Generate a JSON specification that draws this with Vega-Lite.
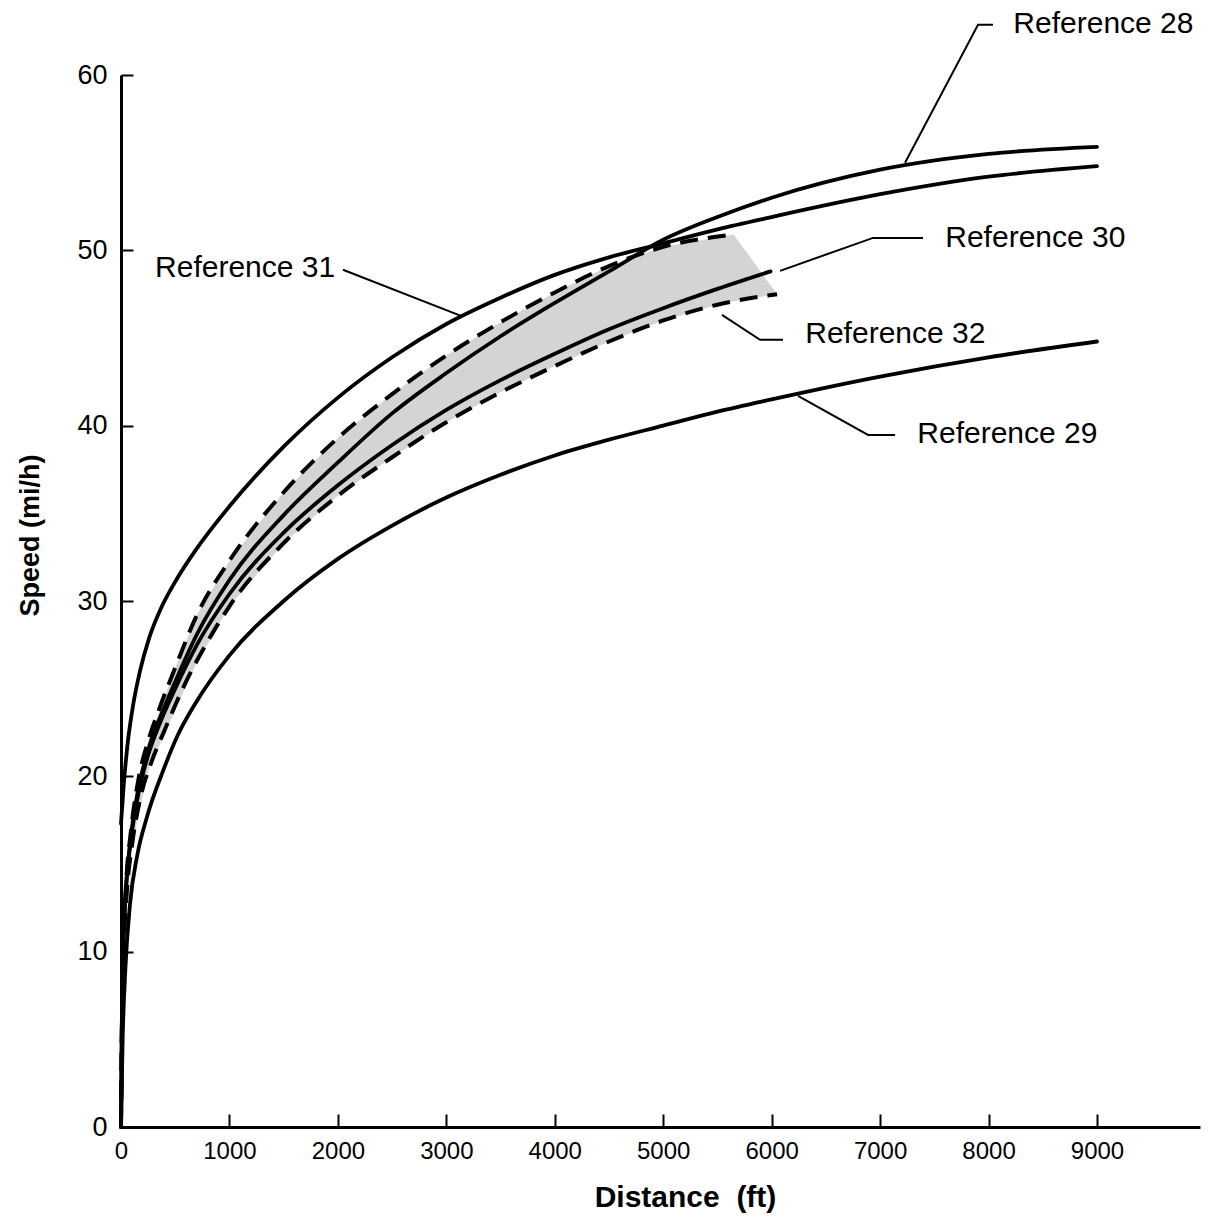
{
  "$schema": "https://vega.github.io/schema/vega-lite/v6.json",
  "width": 1079,
  "height": 1052,
  "autosize": {"type": "none"},
  "padding": {"left": 121, "top": 75, "right": 10, "bottom": 93},
  "background": "white",
  "config": {"view": {"stroke": null}, "font": "Liberation Sans"},
  "datasets": {
    "band": [
      {"ft": 0, "lo": 0, "hi": 0},
      {"ft": 100, "lo": 16.0, "hi": 17.4},
      {"ft": 250, "lo": 20.3, "hi": 22.0},
      {"ft": 500, "lo": 23.8, "hi": 26.2},
      {"ft": 700, "lo": 26.5, "hi": 29.2},
      {"ft": 1000, "lo": 29.7, "hi": 32.3},
      {"ft": 1500, "lo": 33.3, "hi": 36.2},
      {"ft": 2000, "lo": 36.0, "hi": 39.3},
      {"ft": 2500, "lo": 38.2, "hi": 41.8},
      {"ft": 3000, "lo": 40.2, "hi": 44.0},
      {"ft": 3500, "lo": 41.9, "hi": 45.9},
      {"ft": 4000, "lo": 43.4, "hi": 47.6},
      {"ft": 4500, "lo": 44.8, "hi": 49.1},
      {"ft": 5000, "lo": 46.0, "hi": 50.2},
      {"ft": 5500, "lo": 46.9, "hi": 50.75},
      {"ft": 5650, "lo": 47.1, "hi": 50.9},
      {"ft": 6050, "lo": 47.5, "hi": 47.5}
    ],
    "solid": [
      {"s": "Reference 31", "ft": 0, "mph": 17.3},
      {"s": "Reference 31", "ft": 25, "mph": 19.5},
      {"s": "Reference 31", "ft": 60, "mph": 21.8},
      {"s": "Reference 31", "ft": 110, "mph": 24.0},
      {"s": "Reference 31", "ft": 175, "mph": 26.0},
      {"s": "Reference 31", "ft": 260, "mph": 27.9},
      {"s": "Reference 31", "ft": 370, "mph": 29.6},
      {"s": "Reference 31", "ft": 500, "mph": 31.1},
      {"s": "Reference 31", "ft": 700, "mph": 33.0},
      {"s": "Reference 31", "ft": 1000, "mph": 35.4},
      {"s": "Reference 31", "ft": 1500, "mph": 38.8},
      {"s": "Reference 31", "ft": 2000, "mph": 41.6},
      {"s": "Reference 31", "ft": 2500, "mph": 43.9},
      {"s": "Reference 31", "ft": 3000, "mph": 45.8},
      {"s": "Reference 31", "ft": 3500, "mph": 47.3},
      {"s": "Reference 31", "ft": 4000, "mph": 48.6},
      {"s": "Reference 31", "ft": 4500, "mph": 49.6},
      {"s": "Reference 31", "ft": 5000, "mph": 50.4},
      {"s": "Reference 31", "ft": 5500, "mph": 51.2},
      {"s": "Reference 31", "ft": 6000, "mph": 51.9},
      {"s": "Reference 31", "ft": 7000, "mph": 53.2},
      {"s": "Reference 31", "ft": 8000, "mph": 54.2},
      {"s": "Reference 31", "ft": 9000, "mph": 54.8},
      {"s": "Reference 28", "ft": 0, "mph": 0},
      {"s": "Reference 28", "ft": 8, "mph": 6},
      {"s": "Reference 28", "ft": 20, "mph": 10},
      {"s": "Reference 28", "ft": 45, "mph": 13.5},
      {"s": "Reference 28", "ft": 90, "mph": 16.5},
      {"s": "Reference 28", "ft": 160, "mph": 19.3},
      {"s": "Reference 28", "ft": 250, "mph": 21.5},
      {"s": "Reference 28", "ft": 350, "mph": 23.2},
      {"s": "Reference 28", "ft": 500, "mph": 25.4},
      {"s": "Reference 28", "ft": 700, "mph": 28.1},
      {"s": "Reference 28", "ft": 1000, "mph": 31.2},
      {"s": "Reference 28", "ft": 1500, "mph": 34.9},
      {"s": "Reference 28", "ft": 2000, "mph": 37.9},
      {"s": "Reference 28", "ft": 2500, "mph": 40.7},
      {"s": "Reference 28", "ft": 3000, "mph": 43.0},
      {"s": "Reference 28", "ft": 3500, "mph": 45.1},
      {"s": "Reference 28", "ft": 4000, "mph": 47.0},
      {"s": "Reference 28", "ft": 4500, "mph": 48.8},
      {"s": "Reference 28", "ft": 5000, "mph": 50.6},
      {"s": "Reference 28", "ft": 5500, "mph": 51.9},
      {"s": "Reference 28", "ft": 6000, "mph": 53.0},
      {"s": "Reference 28", "ft": 7000, "mph": 54.6},
      {"s": "Reference 28", "ft": 8000, "mph": 55.5},
      {"s": "Reference 28", "ft": 9000, "mph": 55.9},
      {"s": "Reference 30", "ft": 0, "mph": 0},
      {"s": "Reference 30", "ft": 8, "mph": 6},
      {"s": "Reference 30", "ft": 20, "mph": 10},
      {"s": "Reference 30", "ft": 45, "mph": 13.5},
      {"s": "Reference 30", "ft": 90, "mph": 16.3},
      {"s": "Reference 30", "ft": 160, "mph": 19.0},
      {"s": "Reference 30", "ft": 250, "mph": 21.2},
      {"s": "Reference 30", "ft": 350, "mph": 22.9},
      {"s": "Reference 30", "ft": 500, "mph": 25.0},
      {"s": "Reference 30", "ft": 700, "mph": 27.5},
      {"s": "Reference 30", "ft": 1000, "mph": 30.4},
      {"s": "Reference 30", "ft": 1500, "mph": 33.9},
      {"s": "Reference 30", "ft": 2000, "mph": 36.6},
      {"s": "Reference 30", "ft": 2500, "mph": 38.9},
      {"s": "Reference 30", "ft": 3000, "mph": 40.9},
      {"s": "Reference 30", "ft": 3500, "mph": 42.6},
      {"s": "Reference 30", "ft": 4000, "mph": 44.1},
      {"s": "Reference 30", "ft": 4500, "mph": 45.5},
      {"s": "Reference 30", "ft": 5000, "mph": 46.7},
      {"s": "Reference 30", "ft": 5500, "mph": 47.8},
      {"s": "Reference 30", "ft": 5990, "mph": 48.8},
      {"s": "Reference 29", "ft": 0, "mph": 0},
      {"s": "Reference 29", "ft": 15, "mph": 5},
      {"s": "Reference 29", "ft": 40, "mph": 9},
      {"s": "Reference 29", "ft": 83, "mph": 12.7},
      {"s": "Reference 29", "ft": 150, "mph": 15.5},
      {"s": "Reference 29", "ft": 240, "mph": 17.7},
      {"s": "Reference 29", "ft": 387, "mph": 20.3},
      {"s": "Reference 29", "ft": 520, "mph": 22.3},
      {"s": "Reference 29", "ft": 700, "mph": 24.3},
      {"s": "Reference 29", "ft": 1000, "mph": 26.9},
      {"s": "Reference 29", "ft": 1500, "mph": 30.0},
      {"s": "Reference 29", "ft": 2000, "mph": 32.4},
      {"s": "Reference 29", "ft": 2500, "mph": 34.3},
      {"s": "Reference 29", "ft": 3000, "mph": 35.9},
      {"s": "Reference 29", "ft": 3500, "mph": 37.2},
      {"s": "Reference 29", "ft": 4000, "mph": 38.3},
      {"s": "Reference 29", "ft": 4500, "mph": 39.2},
      {"s": "Reference 29", "ft": 5000, "mph": 40.0},
      {"s": "Reference 29", "ft": 5500, "mph": 40.8},
      {"s": "Reference 29", "ft": 6000, "mph": 41.5},
      {"s": "Reference 29", "ft": 7000, "mph": 42.8},
      {"s": "Reference 29", "ft": 8000, "mph": 43.9},
      {"s": "Reference 29", "ft": 9000, "mph": 44.8}
    ],
    "dashed": [
      {"s": "upper", "ft": 0, "mph": 0},
      {"s": "upper", "ft": 8, "mph": 6},
      {"s": "upper", "ft": 20, "mph": 10},
      {"s": "upper", "ft": 45, "mph": 13.7},
      {"s": "upper", "ft": 90, "mph": 16.8},
      {"s": "upper", "ft": 160, "mph": 19.8},
      {"s": "upper", "ft": 250, "mph": 22.0},
      {"s": "upper", "ft": 350, "mph": 23.8},
      {"s": "upper", "ft": 500, "mph": 26.2},
      {"s": "upper", "ft": 700, "mph": 29.2},
      {"s": "upper", "ft": 1000, "mph": 32.3},
      {"s": "upper", "ft": 1500, "mph": 36.2},
      {"s": "upper", "ft": 2000, "mph": 39.3},
      {"s": "upper", "ft": 2500, "mph": 41.8},
      {"s": "upper", "ft": 3000, "mph": 44.0},
      {"s": "upper", "ft": 3500, "mph": 45.9},
      {"s": "upper", "ft": 4000, "mph": 47.6},
      {"s": "upper", "ft": 4500, "mph": 49.1},
      {"s": "upper", "ft": 5000, "mph": 50.2},
      {"s": "upper", "ft": 5650, "mph": 50.9},
      {"s": "lower", "ft": 0, "mph": 0},
      {"s": "lower", "ft": 10, "mph": 6},
      {"s": "lower", "ft": 25, "mph": 10},
      {"s": "lower", "ft": 55, "mph": 13.5},
      {"s": "lower", "ft": 100, "mph": 16.0},
      {"s": "lower", "ft": 180, "mph": 18.8},
      {"s": "lower", "ft": 280, "mph": 20.8},
      {"s": "lower", "ft": 400, "mph": 22.6},
      {"s": "lower", "ft": 600, "mph": 25.4},
      {"s": "lower", "ft": 800, "mph": 27.7},
      {"s": "lower", "ft": 1000, "mph": 29.7},
      {"s": "lower", "ft": 1500, "mph": 33.3},
      {"s": "lower", "ft": 2000, "mph": 36.0},
      {"s": "lower", "ft": 2500, "mph": 38.2},
      {"s": "lower", "ft": 3000, "mph": 40.2},
      {"s": "lower", "ft": 3500, "mph": 41.9},
      {"s": "lower", "ft": 4000, "mph": 43.4},
      {"s": "lower", "ft": 4500, "mph": 44.8},
      {"s": "lower", "ft": 5000, "mph": 46.0},
      {"s": "lower", "ft": 5500, "mph": 46.9},
      {"s": "lower", "ft": 6050, "mph": 47.5}
    ],
    "leaders": [
      {"id": "r28", "ft": 7230, "mph": 55.0},
      {"id": "r28", "ft": 7903, "mph": 62.86},
      {"id": "r28", "ft": 8041, "mph": 62.86},
      {"id": "r30", "ft": 6077, "mph": 48.83},
      {"id": "r30", "ft": 6935, "mph": 50.71},
      {"id": "r30", "ft": 7396, "mph": 50.71},
      {"id": "r32", "ft": 5542, "mph": 46.32},
      {"id": "r32", "ft": 5893, "mph": 44.9},
      {"id": "r32", "ft": 6105, "mph": 44.9},
      {"id": "r29", "ft": 6243, "mph": 41.7},
      {"id": "r29", "ft": 6889, "mph": 39.47},
      {"id": "r29", "ft": 7138, "mph": 39.47},
      {"id": "r31", "ft": 2047, "mph": 48.89},
      {"id": "r31", "ft": 3135, "mph": 46.26}
    ],
    "labels": [
      {"label": "Reference 28", "ft": 8229, "mph": 62.9},
      {"label": "Reference 30", "ft": 7601, "mph": 50.7},
      {"label": "Reference 32", "ft": 6310, "mph": 45.2},
      {"label": "Reference 29", "ft": 7343, "mph": 39.5},
      {"label": "Reference 31", "ft": 314, "mph": 49.0}
    ]
  },
  "layer": [
    {
      "data": {"name": "band"},
      "mark": {"type": "area", "color": "#d4d4d4", "interpolate": "linear"},
      "encoding": {
        "x": {
          "field": "ft", "type": "quantitative",
          "scale": {"domain": [0, 9950], "nice": false, "zero": false},
          "title": "Distance\u00a0\u00a0(ft)",
          "axis": {
            "values": [0, 1000, 2000, 3000, 4000, 5000, 6000, 7000, 8000, 9000],
            "format": "d", "grid": false,
            "domainColor": "black", "domainWidth": 3,
            "tickColor": "black", "tickWidth": 2, "tickSize": -13,
            "labelPadding": 25, "labelFont": "Liberation Sans", "labelFontSize": 24,
            "labelColor": "black", "labelFlush": false, "labelOverlap": false,
            "titleFont": "Liberation Sans", "titleFontWeight": "bold", "titleFontSize": 30,
            "titleColor": "black", "titleX": 564, "titleY": 70, "titleBaseline": "middle", "titleAlign": "center"
          }
        },
        "y": {
          "field": "lo", "type": "quantitative",
          "scale": {"domain": [0, 60], "nice": false, "zero": false},
          "title": "Speed (mi/h)",
          "axis": {
            "values": [0, 10, 20, 30, 40, 50, 60],
            "grid": false,
            "domainColor": "black", "domainWidth": 3,
            "tickColor": "black", "tickWidth": 2, "tickSize": -12,
            "labelPadding": 26, "labelFont": "Liberation Sans", "labelFontSize": 27,
            "labelColor": "black", "labelFlush": false, "labelOverlap": false,
            "titleFont": "Liberation Sans", "titleFontWeight": "bold", "titleFontSize": 27,
            "titleColor": "black", "titleX": -91, "titleY": 460, "titleBaseline": "middle", "titleAlign": "center", "titleAngle": -90
          }
        },
        "y2": {"field": "hi"}
      }
    },
    {
      "data": {"name": "dashed"},
      "mark": {"type": "line", "color": "black", "strokeWidth": 4, "strokeDash": [18, 10], "interpolate": "monotone"},
      "encoding": {
        "x": {"field": "ft", "type": "quantitative", "title": "Distance\u00a0\u00a0(ft)"},
        "y": {"field": "mph", "type": "quantitative", "title": "Speed (mi/h)"},
        "detail": {"field": "s"}
      }
    },
    {
      "data": {"name": "solid"},
      "mark": {"type": "line", "color": "black", "strokeWidth": 3.8, "strokeCap": "round", "interpolate": "monotone"},
      "encoding": {
        "x": {"field": "ft", "type": "quantitative", "title": "Distance\u00a0\u00a0(ft)"},
        "y": {"field": "mph", "type": "quantitative", "title": "Speed (mi/h)"},
        "detail": {"field": "s"}
      }
    },
    {
      "data": {"name": "leaders"},
      "mark": {"type": "line", "color": "black", "strokeWidth": 2},
      "encoding": {
        "x": {"field": "ft", "type": "quantitative", "title": "Distance\u00a0\u00a0(ft)"},
        "y": {"field": "mph", "type": "quantitative", "title": "Speed (mi/h)"},
        "detail": {"field": "id"}
      }
    },
    {
      "data": {"name": "labels"},
      "mark": {"type": "text", "align": "left", "baseline": "middle", "fontSize": 30, "font": "Liberation Sans", "color": "black"},
      "encoding": {
        "x": {"field": "ft", "type": "quantitative", "title": "Distance\u00a0\u00a0(ft)"},
        "y": {"field": "mph", "type": "quantitative", "title": "Speed (mi/h)"},
        "text": {"field": "label"}
      }
    }
  ]
}
